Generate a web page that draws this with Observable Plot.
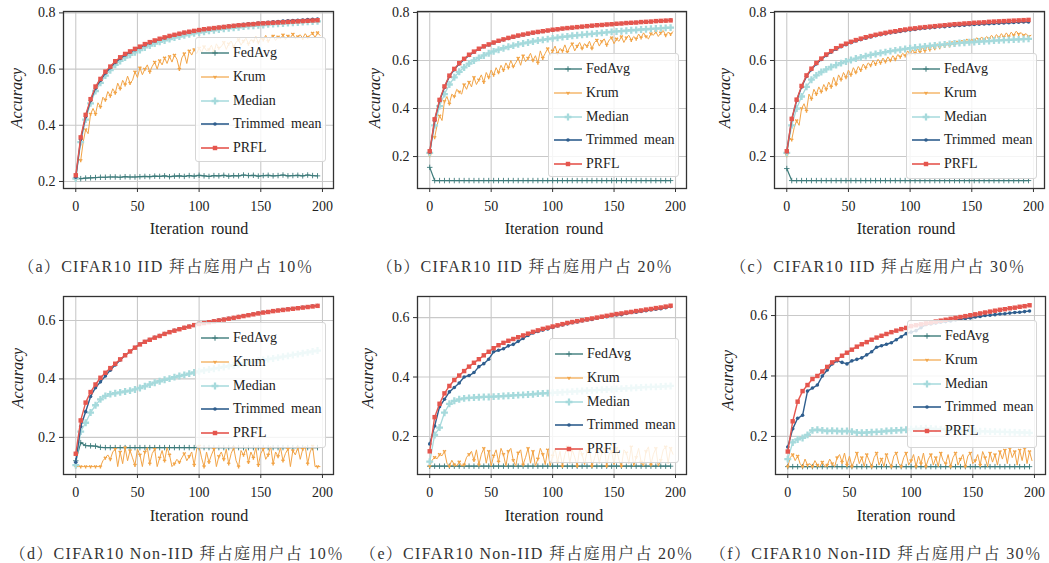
<!DOCTYPE html>
<html><head><meta charset="utf-8">
<script src="https://cdn.jsdelivr.net/npm/d3@7"></script>
<script src="https://cdn.jsdelivr.net/npm/@observablehq/plot@0.6"></script>
<style>
body{margin:0;background:#fff;}
#root{position:relative;width:1049px;height:563px;overflow:hidden;font-family:"Liberation Serif","Times New Roman",Times,"DejaVu Serif","Noto Serif",serif;color:#222;background:#fff;}
.panel{position:absolute;}
.xlab{position:absolute;font-size:16px;transform:translate(-50%,-50%);white-space:nowrap;word-spacing:3px;}
.ylab{position:absolute;font-size:16px;font-style:italic;transform:translate(-50%,-50%) rotate(-90deg);white-space:nowrap;}
.cap{position:absolute;font-size:16px;letter-spacing:1.3px;transform:translate(-50%,-50%);white-space:nowrap;font-family:"Liberation Serif","Times New Roman",Times,"DejaVu Serif","Noto Serif CJK SC","Noto Sans CJK SC",serif;color:#333;}
.legend{position:absolute;background:rgba(255,255,255,0.82);border:1px solid #d6d6d6;border-radius:3px;box-sizing:border-box;}
.lrow{position:absolute;left:0;height:18px;display:flex;align-items:center;font-size:14px;word-spacing:3px;white-space:nowrap;}
.lrow svg{margin-left:5px;margin-right:4px;}
</style>
</head><body>
<div id="root"></div>
<script>
// ---------- data ----------
const seriesNames = ["FedAvg", "Krum", "Median", "Trimmed mean", "PRFL"];
const seriesColors = ["#3d7b7a", "#f2a447", "#a6dadc", "#2f5e8e", "#e5564e"];
const xTicks = [0, 50, 100, 150, 200];
const yTicksTop = [0.2, 0.4, 0.6, 0.8];
const yTicksBottom = [0.2, 0.4, 0.6];
const captions = [
  "（a）CIFAR10 IID 拜占庭用户占 10％",
  "（b）CIFAR10 IID 拜占庭用户占 20％",
  "（c）CIFAR10 IID 拜占庭用户占 30％",
  "（d）CIFAR10 Non-IID 拜占庭用户占 10％",
  "（e）CIFAR10 Non-IID 拜占庭用户占 20％",
  "（f）CIFAR10 Non-IID 拜占庭用户占 30％"
];
const xLabel = "Iteration round";
const yLabel = "Accuracy";
// rounds sampled every 4 (FedAvg, Median, Trimmed mean, PRFL) and every 2 (Krum)
const stepMain = 4, stepKrum = 2;

// (a)
const aFedAvg = [0.212,0.210,0.212,0.213,0.214,0.215,0.215,0.216,0.216,0.215,0.217,0.216,0.216,0.217,0.218,0.217,0.219,0.218,0.220,0.217,0.219,0.220,0.218,0.221,0.219,0.222,0.220,0.218,0.221,0.220,0.222,0.219,0.221,0.220,0.223,0.221,0.222,0.219,0.221,0.222,0.220,0.221,0.223,0.220,0.221,0.222,0.220,0.223,0.221,0.220];
const aKrum = [0.205,0.280,0.275,0.340,0.385,0.370,0.440,0.460,0.440,0.480,0.465,0.500,0.490,0.520,0.505,0.530,0.515,0.550,0.530,0.560,0.545,0.575,0.550,0.560,0.590,0.570,0.605,0.580,0.600,0.615,0.590,0.610,0.625,0.600,0.630,0.615,0.640,0.620,0.645,0.625,0.650,0.635,0.600,0.640,0.655,0.620,0.665,0.650,0.670,0.655,0.675,0.660,0.680,0.665,0.670,0.685,0.660,0.690,0.675,0.680,0.695,0.670,0.690,0.700,0.680,0.695,0.705,0.685,0.700,0.710,0.690,0.705,0.700,0.715,0.695,0.710,0.705,0.720,0.700,0.712,0.718,0.702,0.715,0.708,0.722,0.705,0.718,0.712,0.725,0.708,0.716,0.722,0.710,0.726,0.714,0.720,0.728,0.712,0.730,0.720];
const aMedian = [0.210,0.340,0.420,0.478,0.522,0.551,0.577,0.596,0.615,0.629,0.641,0.651,0.660,0.668,0.677,0.684,0.691,0.697,0.702,0.707,0.712,0.716,0.720,0.724,0.727,0.730,0.733,0.736,0.738,0.741,0.743,0.745,0.747,0.749,0.751,0.753,0.754,0.756,0.757,0.759,0.760,0.761,0.762,0.764,0.765,0.766,0.767,0.768,0.769,0.770];
const aTrimmed = [0.215,0.350,0.430,0.488,0.532,0.560,0.586,0.605,0.624,0.638,0.650,0.660,0.669,0.677,0.686,0.693,0.700,0.706,0.711,0.716,0.721,0.725,0.729,0.732,0.736,0.739,0.742,0.744,0.747,0.749,0.751,0.753,0.755,0.757,0.759,0.761,0.762,0.764,0.765,0.767,0.768,0.769,0.771,0.772,0.773,0.774,0.775,0.776,0.777,0.778];
const aPRFL = [0.222,0.357,0.437,0.493,0.538,0.565,0.591,0.609,0.628,0.642,0.654,0.663,0.672,0.680,0.689,0.696,0.702,0.708,0.713,0.718,0.722,0.726,0.730,0.733,0.736,0.739,0.742,0.744,0.746,0.748,0.750,0.752,0.754,0.756,0.757,0.759,0.760,0.762,0.763,0.764,0.765,0.766,0.767,0.768,0.769,0.770,0.771,0.772,0.773,0.774];

// (b)
const bFedAvg = [0.155,0.100,0.100,0.100,0.100,0.100,0.100,0.100,0.100,0.100,0.100,0.100,0.100,0.100,0.100,0.100,0.100,0.100,0.100,0.100,0.100,0.100,0.100,0.100,0.100,0.100,0.100,0.100,0.100,0.100,0.100,0.100,0.100,0.100,0.100,0.100,0.100,0.100,0.100,0.100,0.100,0.100,0.100,0.100,0.100,0.100,0.100,0.100,0.100,0.100];
const bKrum = [0.205,0.290,0.280,0.330,0.370,0.350,0.430,0.450,0.420,0.460,0.450,0.480,0.470,0.460,0.500,0.480,0.510,0.490,0.530,0.500,0.520,0.540,0.510,0.550,0.530,0.560,0.540,0.570,0.550,0.580,0.560,0.590,0.570,0.600,0.575,0.590,0.610,0.580,0.620,0.595,0.610,0.630,0.600,0.620,0.590,0.640,0.610,0.630,0.650,0.620,0.640,0.660,0.630,0.650,0.640,0.665,0.635,0.655,0.670,0.640,0.660,0.675,0.650,0.670,0.660,0.680,0.650,0.675,0.685,0.660,0.680,0.690,0.665,0.685,0.695,0.670,0.690,0.680,0.700,0.675,0.695,0.705,0.685,0.700,0.690,0.710,0.695,0.715,0.700,0.690,0.712,0.705,0.720,0.700,0.715,0.725,0.705,0.718,0.710,0.720];
const bMedian = [0.215,0.330,0.410,0.460,0.500,0.530,0.553,0.571,0.587,0.600,0.611,0.621,0.630,0.638,0.645,0.651,0.657,0.662,0.667,0.671,0.675,0.679,0.683,0.686,0.689,0.692,0.695,0.698,0.700,0.703,0.705,0.707,0.709,0.711,0.713,0.715,0.717,0.719,0.721,0.722,0.724,0.726,0.727,0.729,0.730,0.732,0.733,0.734,0.736,0.737];
const bTrimmed = [0.218,0.350,0.432,0.488,0.534,0.562,0.586,0.604,0.621,0.635,0.647,0.657,0.665,0.673,0.680,0.686,0.692,0.697,0.702,0.706,0.710,0.714,0.717,0.721,0.724,0.727,0.729,0.732,0.734,0.736,0.738,0.740,0.742,0.744,0.746,0.748,0.749,0.751,0.752,0.754,0.755,0.757,0.758,0.759,0.761,0.762,0.763,0.765,0.766,0.768];
const bPRFL = [0.222,0.355,0.436,0.492,0.537,0.565,0.589,0.607,0.624,0.637,0.649,0.659,0.667,0.675,0.682,0.688,0.694,0.699,0.704,0.708,0.712,0.716,0.719,0.722,0.725,0.728,0.730,0.733,0.735,0.737,0.739,0.741,0.743,0.745,0.747,0.748,0.750,0.751,0.753,0.754,0.756,0.757,0.758,0.760,0.761,0.762,0.764,0.765,0.766,0.767];

// (c)
const cFedAvg = [0.150,0.100,0.100,0.100,0.100,0.100,0.100,0.100,0.100,0.100,0.100,0.100,0.100,0.100,0.100,0.100,0.100,0.100,0.100,0.100,0.100,0.100,0.100,0.100,0.100,0.100,0.100,0.100,0.100,0.100,0.100,0.100,0.100,0.100,0.100,0.100,0.100,0.100,0.100,0.100,0.100,0.100,0.100,0.100,0.100,0.100,0.100,0.100,0.100,0.100];
const cKrum = [0.205,0.280,0.270,0.320,0.350,0.330,0.400,0.420,0.390,0.460,0.440,0.480,0.460,0.490,0.470,0.500,0.480,0.510,0.490,0.530,0.500,0.540,0.520,0.550,0.530,0.560,0.540,0.570,0.550,0.575,0.560,0.585,0.570,0.590,0.580,0.600,0.585,0.605,0.590,0.610,0.595,0.615,0.600,0.620,0.605,0.625,0.615,0.630,0.620,0.640,0.625,0.645,0.630,0.650,0.635,0.655,0.640,0.660,0.645,0.665,0.650,0.670,0.655,0.668,0.660,0.675,0.662,0.680,0.665,0.682,0.670,0.685,0.672,0.690,0.676,0.688,0.680,0.695,0.684,0.698,0.686,0.700,0.690,0.705,0.692,0.708,0.695,0.712,0.698,0.715,0.700,0.718,0.705,0.722,0.710,0.716,0.705,0.712,0.700,0.705];
const cMedian = [0.215,0.330,0.400,0.450,0.490,0.520,0.538,0.552,0.563,0.573,0.581,0.589,0.596,0.602,0.608,0.613,0.618,0.623,0.627,0.631,0.635,0.639,0.642,0.645,0.648,0.651,0.654,0.656,0.659,0.661,0.663,0.665,0.667,0.669,0.671,0.673,0.674,0.676,0.677,0.679,0.680,0.681,0.683,0.684,0.685,0.686,0.687,0.688,0.689,0.690];
const cTrimmed = [0.220,0.353,0.433,0.490,0.534,0.562,0.586,0.604,0.621,0.635,0.647,0.657,0.666,0.674,0.681,0.687,0.693,0.698,0.703,0.707,0.711,0.715,0.718,0.721,0.724,0.727,0.729,0.732,0.734,0.736,0.738,0.740,0.741,0.743,0.745,0.746,0.747,0.749,0.750,0.751,0.752,0.753,0.754,0.755,0.756,0.757,0.758,0.759,0.760,0.760];
const cPRFL = [0.222,0.357,0.437,0.494,0.538,0.566,0.590,0.608,0.625,0.639,0.651,0.661,0.670,0.678,0.685,0.691,0.697,0.702,0.707,0.711,0.715,0.719,0.722,0.726,0.729,0.732,0.734,0.737,0.739,0.741,0.743,0.745,0.747,0.749,0.751,0.752,0.754,0.755,0.757,0.758,0.759,0.761,0.762,0.763,0.764,0.765,0.766,0.767,0.768,0.769];

// (d)
const dFedAvg = [0.120,0.182,0.172,0.171,0.170,0.166,0.165,0.165,0.165,0.165,0.165,0.165,0.165,0.165,0.165,0.165,0.165,0.165,0.165,0.165,0.165,0.165,0.165,0.165,0.165,0.165,0.165,0.165,0.165,0.165,0.165,0.165,0.165,0.165,0.165,0.165,0.165,0.165,0.165,0.165,0.165,0.165,0.165,0.165,0.165,0.165,0.165,0.165,0.165,0.165];
const dKrum = [0.100,0.100,0.100,0.100,0.100,0.100,0.100,0.100,0.100,0.100,0.100,0.120,0.130,0.140,0.125,0.150,0.160,0.100,0.150,0.110,0.165,0.120,0.155,0.130,0.105,0.160,0.140,0.100,0.150,0.165,0.110,0.145,0.160,0.100,0.130,0.155,0.120,0.165,0.140,0.100,0.110,0.125,0.115,0.130,0.145,0.120,0.135,0.150,0.105,0.160,0.170,0.130,0.100,0.150,0.115,0.140,0.160,0.100,0.135,0.150,0.125,0.160,0.110,0.145,0.165,0.120,0.100,0.155,0.140,0.160,0.115,0.150,0.130,0.165,0.105,0.145,0.160,0.125,0.140,0.170,0.110,0.150,0.135,0.165,0.120,0.145,0.160,0.100,0.155,0.140,0.165,0.125,0.160,0.170,0.110,0.150,0.170,0.100,0.100,0.100];
const dMedian = [0.105,0.220,0.250,0.285,0.310,0.330,0.342,0.348,0.351,0.354,0.357,0.360,0.364,0.369,0.375,0.381,0.387,0.392,0.397,0.401,0.406,0.410,0.414,0.418,0.422,0.426,0.429,0.432,0.435,0.438,0.441,0.444,0.447,0.450,0.453,0.456,0.459,0.462,0.465,0.468,0.470,0.473,0.476,0.479,0.482,0.485,0.488,0.491,0.494,0.497];
const dTrimmed = [0.115,0.237,0.288,0.340,0.370,0.390,0.410,0.430,0.448,0.465,0.480,0.494,0.507,0.519,0.528,0.535,0.542,0.548,0.555,0.561,0.566,0.571,0.576,0.580,0.585,0.589,0.592,0.595,0.598,0.601,0.604,0.607,0.610,0.613,0.616,0.619,0.622,0.625,0.628,0.630,0.633,0.635,0.637,0.639,0.641,0.643,0.645,0.647,0.649,0.651];
const dPRFL = [0.144,0.258,0.319,0.355,0.381,0.404,0.421,0.437,0.452,0.467,0.481,0.494,0.507,0.518,0.527,0.534,0.541,0.547,0.554,0.560,0.565,0.570,0.575,0.579,0.584,0.588,0.591,0.594,0.597,0.600,0.603,0.606,0.609,0.612,0.615,0.618,0.621,0.624,0.627,0.629,0.632,0.634,0.636,0.638,0.640,0.642,0.644,0.646,0.648,0.650];

// (e)
const eFedAvg = [0.100,0.100,0.100,0.100,0.100,0.100,0.100,0.100,0.100,0.100,0.100,0.100,0.100,0.100,0.100,0.100,0.100,0.100,0.100,0.100,0.100,0.100,0.100,0.100,0.100,0.100,0.100,0.100,0.100,0.100,0.100,0.100,0.100,0.100,0.100,0.100,0.100,0.100,0.100,0.100,0.100,0.100,0.100,0.100,0.100,0.100,0.100,0.100,0.100,0.100];
const eKrum = [0.100,0.120,0.130,0.125,0.140,0.135,0.150,0.110,0.100,0.120,0.105,0.100,0.115,0.100,0.105,0.130,0.140,0.150,0.120,0.155,0.105,0.140,0.160,0.110,0.150,0.100,0.135,0.155,0.115,0.160,0.140,0.100,0.150,0.160,0.120,0.100,0.145,0.155,0.105,0.130,0.160,0.110,0.150,0.100,0.125,0.160,0.140,0.105,0.155,0.100,0.135,0.160,0.115,0.150,0.100,0.140,0.165,0.110,0.155,0.130,0.100,0.160,0.140,0.105,0.150,0.160,0.100,0.125,0.155,0.110,0.145,0.165,0.100,0.140,0.150,0.105,0.160,0.120,0.100,0.155,0.145,0.110,0.165,0.100,0.130,0.160,0.115,0.100,0.150,0.165,0.105,0.140,0.160,0.100,0.120,0.155,0.165,0.110,0.160,0.140];
const eMedian = [0.115,0.205,0.230,0.280,0.310,0.320,0.325,0.328,0.330,0.331,0.332,0.333,0.333,0.334,0.335,0.336,0.337,0.338,0.339,0.340,0.341,0.342,0.344,0.345,0.346,0.347,0.348,0.349,0.350,0.351,0.352,0.353,0.354,0.355,0.356,0.357,0.358,0.359,0.360,0.361,0.362,0.363,0.364,0.365,0.366,0.367,0.367,0.368,0.369,0.370];
const eTrimmed = [0.175,0.235,0.300,0.325,0.350,0.365,0.380,0.400,0.405,0.415,0.435,0.445,0.460,0.485,0.490,0.495,0.505,0.510,0.520,0.530,0.540,0.548,0.553,0.558,0.562,0.567,0.572,0.575,0.579,0.583,0.585,0.589,0.592,0.594,0.598,0.601,0.603,0.607,0.609,0.610,0.614,0.617,0.618,0.621,0.623,0.626,0.628,0.630,0.633,0.637];
const ePRFL = [0.150,0.265,0.310,0.345,0.370,0.390,0.405,0.420,0.435,0.448,0.460,0.473,0.485,0.497,0.507,0.515,0.522,0.528,0.534,0.540,0.546,0.552,0.557,0.562,0.566,0.570,0.574,0.578,0.582,0.585,0.588,0.591,0.594,0.597,0.600,0.603,0.606,0.609,0.612,0.614,0.617,0.619,0.622,0.624,0.627,0.629,0.632,0.634,0.637,0.640];

// (f)
const fFedAvg = [0.100,0.100,0.100,0.100,0.100,0.100,0.100,0.100,0.100,0.100,0.100,0.100,0.100,0.100,0.100,0.100,0.100,0.100,0.100,0.100,0.100,0.100,0.100,0.100,0.100,0.100,0.100,0.100,0.100,0.100,0.100,0.100,0.100,0.100,0.100,0.100,0.100,0.100,0.100,0.100,0.100,0.100,0.100,0.100,0.100,0.100,0.100,0.100,0.100,0.100];
const fKrum = [0.100,0.130,0.140,0.120,0.135,0.110,0.100,0.125,0.105,0.110,0.100,0.120,0.105,0.100,0.115,0.100,0.105,0.125,0.110,0.100,0.130,0.140,0.115,0.145,0.105,0.135,0.100,0.120,0.145,0.110,0.130,0.100,0.140,0.120,0.100,0.130,0.145,0.105,0.125,0.100,0.140,0.115,0.100,0.135,0.145,0.110,0.100,0.130,0.145,0.105,0.120,0.140,0.100,0.135,0.110,0.145,0.100,0.125,0.140,0.105,0.130,0.100,0.145,0.120,0.110,0.140,0.100,0.130,0.145,0.105,0.125,0.140,0.100,0.135,0.145,0.110,0.120,0.140,0.105,0.150,0.130,0.100,0.145,0.115,0.140,0.105,0.150,0.125,0.155,0.110,0.160,0.130,0.150,0.105,0.155,0.120,0.160,0.110,0.150,0.120];
const fMedian = [0.125,0.180,0.190,0.195,0.205,0.220,0.222,0.220,0.218,0.219,0.218,0.217,0.218,0.216,0.213,0.212,0.213,0.214,0.215,0.216,0.218,0.219,0.220,0.221,0.222,0.224,0.225,0.226,0.227,0.226,0.225,0.224,0.223,0.222,0.221,0.220,0.219,0.218,0.218,0.217,0.217,0.216,0.216,0.215,0.215,0.214,0.214,0.213,0.213,0.212];
const fTrimmed = [0.165,0.225,0.260,0.270,0.350,0.360,0.370,0.400,0.420,0.440,0.450,0.445,0.440,0.450,0.455,0.460,0.470,0.480,0.495,0.500,0.505,0.510,0.520,0.530,0.540,0.545,0.550,0.560,0.570,0.572,0.575,0.578,0.580,0.582,0.585,0.588,0.590,0.592,0.595,0.597,0.600,0.601,0.603,0.605,0.606,0.608,0.610,0.611,0.613,0.615];
const fPRFL = [0.150,0.250,0.315,0.350,0.370,0.390,0.400,0.415,0.430,0.445,0.455,0.467,0.477,0.487,0.497,0.505,0.512,0.520,0.527,0.533,0.539,0.545,0.550,0.555,0.559,0.565,0.568,0.571,0.574,0.577,0.580,0.583,0.586,0.589,0.592,0.595,0.598,0.601,0.604,0.607,0.610,0.613,0.616,0.619,0.621,0.624,0.626,0.629,0.631,0.634];

// ---------- layout (separate from data) ----------
const panels = [
  {series:[aFedAvg,aKrum,aMedian,aTrimmed,aPRFL], yDomain:[0.175,0.805], yTicks:yTicksTop, box:[0,0], frame:[63,333,11,188], xl:[199,229], yl:[17,98], cap:[166,265], leg:[195,37,131,125]},
  {series:[bFedAvg,bKrum,bMedian,bTrimmed,bPRFL], yDomain:[0.067,0.804], yTicks:yTicksTop, box:[350,0], frame:[417,686,11,188], xl:[554,229], yl:[375,98], cap:[525,265], leg:[548,53,131,124]},
  {series:[cFedAvg,cKrum,cMedian,cTrimmed,cPRFL], yDomain:[0.067,0.804], yTicks:yTicksTop, box:[700,0], frame:[774,1044,11,188], xl:[906,229], yl:[725,98], cap:[878,265], leg:[906,53,131,126]},
  {series:[dFedAvg,dKrum,dMedian,dTrimmed,dPRFL], yDomain:[0.073,0.682], yTicks:yTicksBottom, box:[0,285], frame:[63,333,296,474], xl:[199,516], yl:[18,378], cap:[177,552], leg:[195,322,131,126]},
  {series:[eFedAvg,eKrum,eMedian,eTrimmed,ePRFL], yDomain:[0.072,0.671], yTicks:yTicksBottom, box:[350,285], frame:[417,686,296,474], xl:[554,516], yl:[368,378], cap:[527,552], leg:[549,338,130,125]},
  {series:[fFedAvg,fKrum,fMedian,fTrimmed,fPRFL], yDomain:[0.074,0.663], yTicks:yTicksBottom, box:[700,285], frame:[775,1045,296,474], xl:[906,516], yl:[728,380], cap:[876,552], leg:[907,320,130,128]}
];
const markerStyle = [
  {symbol:"plus", r:1.9, fill:"none", strokeWidth:0.9, lw:1.2},
  {symbol:"wye", r:1.5, fill:"c", strokeWidth:0, lw:1.0},
  {symbol:"cross", r:2.9, fill:"c", strokeWidth:0, lw:1.3},
  {symbol:"circle", r:1.8, fill:"c", strokeWidth:0, lw:1.4},
  {symbol:"square", r:2.5, fill:"c", strokeWidth:0, lw:1.4}
];

const root = document.getElementById("root");
const font = "'Liberation Serif','Times New Roman',Times,'DejaVu Serif','Noto Serif',serif";

panels.forEach((p, pi) => {
  const [fx0, fx1, fy0, fy1] = p.frame;
  const [bx, by] = p.box;
  const W = Math.min(1049 - bx, 349);
  const H = 225;
  const marks = [
    Plot.gridX(xTicks, {stroke:"#c9c9c9", strokeOpacity:1, strokeWidth:1.1}),
    Plot.gridY(p.yTicks, {stroke:"#c9c9c9", strokeOpacity:1, strokeWidth:1.1})
  ];
  p.series.forEach((vals, si) => {
    const step = si === 1 ? stepKrum : stepMain;
    const rows = vals.map((v, i) => ({round: i * step, acc: v}));
    const ms = markerStyle[si];
    const col = seriesColors[si];
    marks.push(Plot.line(rows, {x:"round", y:"acc", stroke:col, strokeWidth:ms.lw}));
    const dotRows = si === 1 ? rows.filter((d, i) => i % 2 === 0) : rows;
    marks.push(Plot.dot(dotRows, {x:"round", y:"acc", symbol:ms.symbol, r:ms.r,
      fill: ms.fill === "c" ? col : "none", stroke: ms.fill === "c" ? "none" : col, strokeWidth: ms.strokeWidth || 1}));
  });
  marks.push(Plot.frame({stroke:"#333", strokeWidth:1.3}));
  marks.push(Plot.axisX(xTicks, {tickSize:4, tickPadding:9, label:null, tickFormat:d => String(d), stroke:"#333"}));
  marks.push(Plot.axisY(p.yTicks, {tickSize:4, tickPadding:4, label:null, tickFormat:d => d.toFixed(1), stroke:"#333"}));
  const chart = Plot.plot({
    width: W, height: H,
    marginLeft: fx0 - bx, marginRight: W - (fx1 - bx),
    marginTop: fy0 - by, marginBottom: H - (fy1 - by),
    x: {domain: [-9.95, 208.95]},
    y: {domain: p.yDomain},
    style: {fontFamily: font, fontSize: "14px", color: "#222", background: "transparent", overflow: "visible"},
    marks
  });
  const holder = document.createElement("div");
  holder.className = "panel";
  holder.style.left = bx + "px";
  holder.style.top = by + "px";
  holder.appendChild(chart);
  root.appendChild(holder);

  const xl = document.createElement("div");
  xl.className = "xlab"; xl.textContent = xLabel;
  xl.style.left = p.xl[0] + "px"; xl.style.top = p.xl[1] + "px";
  root.appendChild(xl);
  const yl = document.createElement("div");
  yl.className = "ylab"; yl.textContent = yLabel;
  yl.style.left = p.yl[0] + "px"; yl.style.top = p.yl[1] + "px";
  root.appendChild(yl);
  const cap = document.createElement("div");
  cap.className = "cap"; cap.textContent = captions[pi];
  cap.style.left = p.cap[0] + "px"; cap.style.top = p.cap[1] + "px";
  root.appendChild(cap);

  const [lx, ly, lw, lh] = p.leg;
  const lg = document.createElement("div");
  lg.className = "legend";
  lg.style.left = lx + "px"; lg.style.top = ly + "px";
  lg.style.width = lw + "px"; lg.style.height = lh + "px";
  const symMap = {plus:d3.symbolPlus, wye:d3.symbolWye, cross:d3.symbolCross, circle:d3.symbolCircle, square:d3.symbolSquare};
  seriesNames.forEach((name, si) => {
    const row = document.createElement("div");
    row.className = "lrow";
    row.style.top = (15 - 9 + si * 23.8) + "px";
    const col = seriesColors[si];
    const ms = markerStyle[si];
    const path = d3.symbol(symMap[ms.symbol], Math.PI * ms.r * ms.r)();
    const filled = ms.fill === "c";
    row.innerHTML = `<svg width="28" height="10"><line x1="0" x2="28" y1="5" y2="5" stroke="${col}" stroke-width="${ms.lw + 0.2}"/>` +
      `<path transform="translate(14,5)" d="${path}" fill="${filled ? col : "none"}" stroke="${filled ? "none" : col}" stroke-width="1"/></svg><span>${name}</span>`;
    lg.appendChild(row);
  });
  root.appendChild(lg);
});
</script>
</body></html>
